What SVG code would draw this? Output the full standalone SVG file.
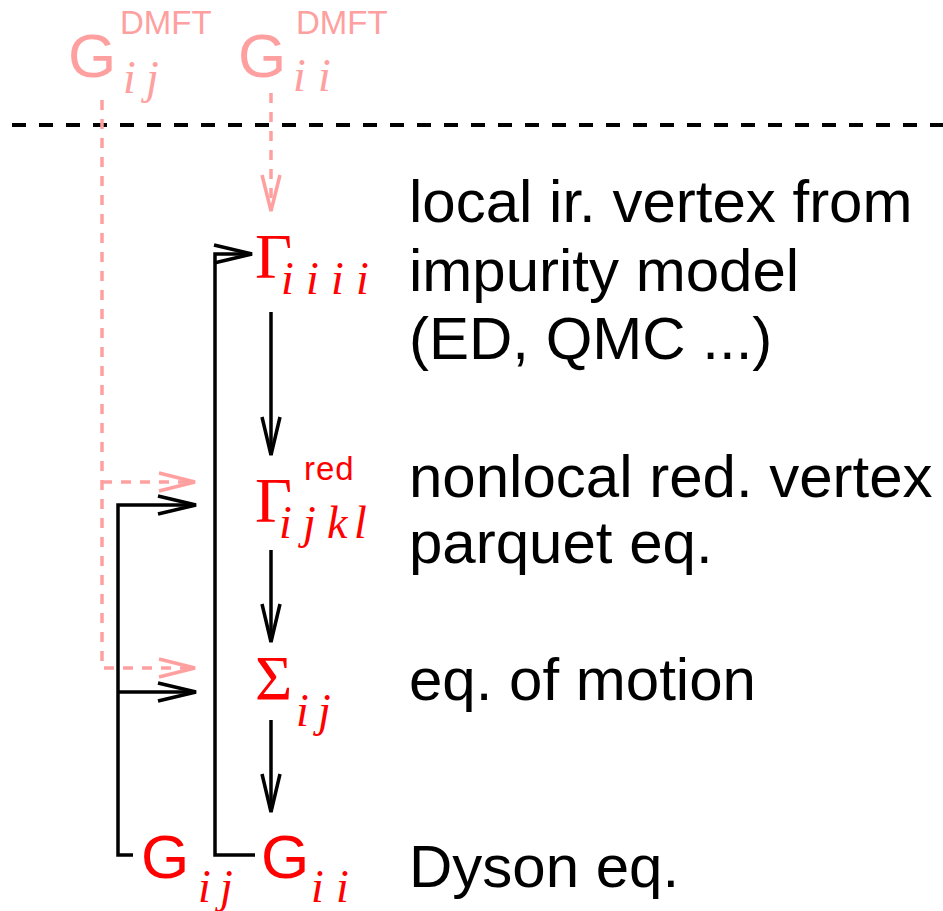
<svg xmlns="http://www.w3.org/2000/svg" width="943" height="911" viewBox="0 0 943 911">
<defs>
<style>
.sym{font-family:"Liberation Sans",Arial,sans-serif;font-size:62px;}
.greek{font-family:"Liberation Serif","Times New Roman",serif;font-size:64px;}
.sub{font-family:"Liberation Serif","Times New Roman",serif;font-style:italic;font-size:46px;}
.sup{font-family:"Liberation Sans",Arial,sans-serif;font-size:33px;}
.red{fill:#ff0000;}
.pink{fill:#ffa0a0;}
.lbl{font-family:"Liberation Sans",Arial,sans-serif;font-size:60px;fill:#000;}
.blk{fill:none;stroke:#000;stroke-width:3.5;}
.pk{fill:none;stroke:#ffa0a0;stroke-width:3.5;stroke-dasharray:10 9;}
</style>
<marker id="ab" markerUnits="userSpaceOnUse" markerWidth="44" markerHeight="24" refX="39" refY="12" orient="auto" overflow="visible">
<path d="M1,3 L39,12 L1,21" fill="none" stroke="#000" stroke-width="3.5"/>
</marker>
<marker id="ap" markerUnits="userSpaceOnUse" markerWidth="44" markerHeight="24" refX="37" refY="12" orient="auto" overflow="visible">
<path d="M1,3 L37,12 L1,21" fill="none" stroke="#ffa0a0" stroke-width="3.5"/>
</marker>
</defs>
<rect width="943" height="911" fill="#fff"/>

<line x1="12" y1="125" x2="943" y2="125" stroke="#000" stroke-width="4" stroke-dasharray="14 13"/>

<g id="connectors">
<path class="pk" d="M102,100 L102,668 L195,668" marker-end="url(#ap)"/>
<path class="pk" d="M102,482 L195,482" marker-end="url(#ap)"/>
<path class="pk" d="M271,93 L271,211" marker-end="url(#ap)"/>
<path class="blk" d="M255,855 L215,855 L215,254 L252,254" marker-end="url(#ab)"/>
<path class="blk" d="M133,855 L118,855 L118,505 L196,505" marker-end="url(#ab)"/>
<path class="blk" d="M118,692 L196,692" marker-end="url(#ab)"/>
<path class="blk" d="M271,312 L271,455" marker-end="url(#ab)"/>
<path class="blk" d="M271,550 L271,642" marker-end="url(#ab)"/>
<path class="blk" d="M271,720 L271,812" marker-end="url(#ab)"/>
</g>

<g id="node-Gij-dmft" class="pink">
<text class="sym" x="68" y="77">G<tspan class="sup" x="120" y="34">DMFT</tspan><tspan class="sub" x="123" y="93">i</tspan><tspan class="sub" x="146" y="93">j</tspan></text>
</g>

<g id="node-Gii-dmft" class="pink">
<text class="sym" x="238" y="77">G<tspan class="sup" x="296" y="34">DMFT</tspan><tspan class="sub" x="293" y="91">i</tspan><tspan class="sub" x="318" y="91">i</tspan></text>
</g>

<g id="node-Gamma-iiii" class="red">
<text class="greek" x="255" y="278">Γ<tspan class="sub" x="281" y="294">i</tspan><tspan class="sub" x="306" y="294">i</tspan><tspan class="sub" x="331" y="294">i</tspan><tspan class="sub" x="356" y="294">i</tspan></text>
</g>
<g id="label-local">
<text class="lbl" x="409" y="222">local ir. vertex from</text>
<text class="lbl" x="409" y="291">impurity model</text>
<text class="lbl" x="409" y="359">(ED, QMC ...)</text>
</g>

<g id="node-Gamma-ijkl" class="red">
<text class="greek" x="255" y="522">Γ<tspan class="sup" x="304" y="480" font-size="36" letter-spacing="1">red</tspan><tspan class="sub" x="279" y="538">i</tspan><tspan class="sub" x="303" y="538">j</tspan><tspan class="sub" x="327" y="538">k</tspan><tspan class="sub" x="354" y="538">l</tspan></text>
</g>
<g id="label-nonlocal">
<text class="lbl" x="409" y="497">nonlocal red. vertex</text>
<text class="lbl" x="409" y="563">parquet eq.</text>
</g>

<g id="node-Sigma" class="red">
<text class="greek" x="255" y="700">Σ<tspan class="sub" x="296" y="726">i</tspan><tspan class="sub" x="318" y="726">j</tspan></text>
</g>
<g id="label-eom">
<text class="lbl" x="409" y="700">eq. of motion</text>
</g>

<g id="node-Gij" class="red">
<text class="sym" x="141" y="878">G<tspan class="sub" x="198" y="902">i</tspan><tspan class="sub" x="220" y="902">j</tspan></text>
</g>
<g id="node-Gii" class="red">
<text class="sym" x="261" y="878">G<tspan class="sub" x="311" y="902">i</tspan><tspan class="sub" x="336" y="902">i</tspan></text>
</g>
<g id="label-dyson">
<text class="lbl" x="409" y="887">Dyson eq.</text>
</g>
</svg>
